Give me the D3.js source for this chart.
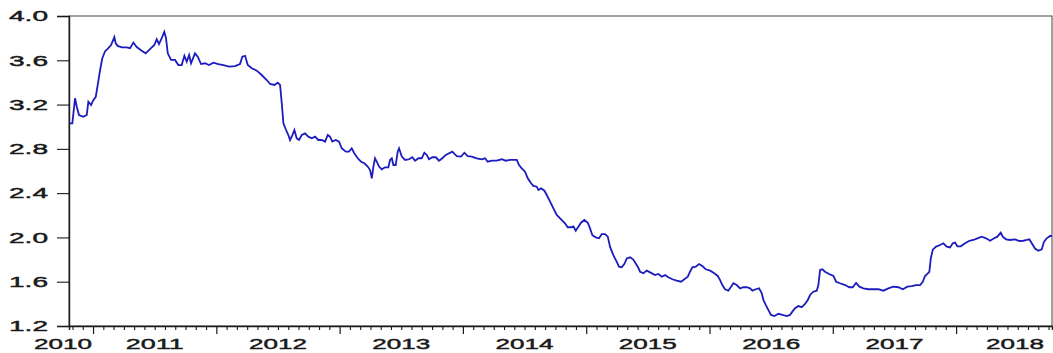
<!DOCTYPE html>
<html>
<head>
<meta charset="utf-8">
<script src="https://cdn.jsdelivr.net/npm/d3@7"></script>
<style>
  html, body { margin: 0; padding: 0; background: #fff; }
  svg { display: block; }
</style>
</head>
<body>
<svg id="chart" width="1053" height="353"></svg>
<script>
// Year labels along the time axis
const yearLabels = [2010, 2011, 2012, 2013, 2014, 2015, 2016, 2017, 2018];

// Value axis ticks
const yTickValues = [1.2, 1.6, 2.0, 2.4, 2.8, 3.2, 3.6, 4.0];

// Observation times (decimal years)
const obsTime = [
  2010.813, 2010.832, 2010.854, 2010.868, 2010.886, 2010.921, 2010.949, 2010.962, 2010.984, 2011.002,
  2011.022, 2011.038, 2011.057, 2011.075, 2011.097, 2011.124, 2011.146, 2011.173, 2011.184, 2011.200,
  2011.233, 2011.273, 2011.300, 2011.327, 2011.354, 2011.395, 2011.427, 2011.462, 2011.497, 2011.517,
  2011.535, 2011.557, 2011.578, 2011.592, 2011.606, 2011.633, 2011.665, 2011.692, 2011.719, 2011.741,
  2011.760, 2011.779, 2011.795, 2011.827, 2011.849, 2011.876, 2011.908, 2011.941, 2011.976, 2012.016,
  2012.057, 2012.103, 2012.152, 2012.192, 2012.211, 2012.233, 2012.255, 2012.287, 2012.328,
  2012.368, 2012.409, 2012.436, 2012.471, 2012.498, 2012.517, 2012.531, 2012.544, 2012.563, 2012.584,
  2012.598, 2012.617, 2012.633, 2012.652, 2012.671, 2012.693, 2012.720, 2012.746, 2012.774, 2012.801,
  2012.827, 2012.855, 2012.882, 2012.904, 2012.922, 2012.941, 2012.969, 2012.995, 2013.017, 2013.050,
  2013.076, 2013.098, 2013.119, 2013.147, 2013.174, 2013.201, 2013.228, 2013.247, 2013.261, 2013.274,
  2013.287, 2013.301, 2013.320, 2013.342, 2013.368, 2013.395, 2013.409, 2013.423, 2013.436, 2013.455,
  2013.471, 2013.482, 2013.504, 2013.531, 2013.563, 2013.590, 2013.612, 2013.639, 2013.666, 2013.687,
  2013.707, 2013.725, 2013.752, 2013.780, 2013.806, 2013.833, 2013.861,
  2013.914, 2013.950, 2013.985, 2014.012, 2014.039, 2014.072, 2014.112, 2014.153, 2014.180, 2014.201,
  2014.234, 2014.274, 2014.315, 2014.347, 2014.382, 2014.437, 2014.455, 2014.477, 2014.504, 2014.526,
  2014.553, 2014.571, 2014.599, 2014.612, 2014.634, 2014.661, 2014.680, 2014.707, 2014.734, 2014.761,
  2014.796, 2014.828, 2014.850, 2014.877, 2014.896, 2014.915, 2014.936, 2014.958, 2014.985, 2015.013,
  2015.031, 2015.050, 2015.077, 2015.104, 2015.126, 2015.153, 2015.175, 2015.193, 2015.220, 2015.248,
  2015.266, 2015.288, 2015.309, 2015.329, 2015.356, 2015.382,
  2015.418, 2015.437, 2015.464, 2015.491, 2015.526, 2015.558, 2015.585, 2015.613, 2015.640, 2015.666,
  2015.699, 2015.734, 2015.769, 2015.796, 2015.824, 2015.842, 2015.861, 2015.889, 2015.915, 2015.942,
  2015.970, 2016.005, 2016.039, 2016.067, 2016.086, 2016.104, 2016.126, 2016.153, 2016.175, 2016.194,
  2016.221, 2016.248, 2016.275, 2016.302, 2016.329, 2016.348, 2016.375, 2016.402, 2016.424, 2016.437,
  2016.456, 2016.477, 2016.499, 2016.526, 2016.559, 2016.591, 2016.627, 2016.653, 2016.672, 2016.694,
  2016.721, 2016.748, 2016.775, 2016.797, 2016.816, 2016.842, 2016.870, 2016.883, 2016.897, 2016.915,
  2016.937, 2016.970,
  2017.005, 2017.027, 2017.059, 2017.100, 2017.134, 2017.162, 2017.189, 2017.216, 2017.248, 2017.289,
  2017.329, 2017.370, 2017.410, 2017.451, 2017.491, 2017.532, 2017.568, 2017.605, 2017.641, 2017.675,
  2017.708, 2017.730, 2017.748, 2017.767, 2017.783, 2017.795, 2017.811, 2017.838, 2017.870, 2017.897,
  2017.924, 2017.951, 2017.973, 2017.992, 2018.010, 2018.038, 2018.073, 2018.108, 2018.140, 2018.173,
  2018.208, 2018.243, 2018.276, 2018.308, 2018.335, 2018.362, 2018.379, 2018.405, 2018.438, 2018.478,
  2018.513, 2018.546, 2018.573, 2018.594, 2018.614, 2018.640, 2018.667, 2018.695, 2018.713, 2018.735,
  2018.762, 2018.778
];

// Observed values
const obsValue = [
  3.03, 3.03, 3.257, 3.18, 3.106, 3.09, 3.106, 3.226, 3.196, 3.24,
  3.27, 3.377, 3.51, 3.618, 3.68, 3.71, 3.738, 3.81, 3.753, 3.73,
  3.717, 3.717, 3.71, 3.76, 3.72, 3.687, 3.663, 3.70, 3.738, 3.79,
  3.747, 3.80, 3.858, 3.80, 3.663, 3.603, 3.603, 3.557, 3.557, 3.64,
  3.587, 3.648, 3.573, 3.663, 3.633, 3.566, 3.573, 3.557, 3.578, 3.566,
  3.557, 3.542, 3.548, 3.566, 3.633, 3.64, 3.557, 3.528, 3.506,
  3.467, 3.422, 3.386, 3.377, 3.398, 3.377, 3.21, 3.03, 2.977, 2.925,
  2.88, 2.925, 2.97, 2.895, 2.88, 2.925, 2.94, 2.91, 2.895, 2.91,
  2.88, 2.88, 2.865, 2.925, 2.91, 2.865, 2.88, 2.865, 2.805, 2.775,
  2.775, 2.805, 2.76, 2.715, 2.684, 2.67, 2.64, 2.609, 2.534, 2.64,
  2.715, 2.684, 2.64, 2.615, 2.633, 2.633, 2.70, 2.715, 2.654, 2.654,
  2.775, 2.805, 2.73, 2.70, 2.706, 2.724, 2.693, 2.715, 2.715, 2.765,
  2.745, 2.706, 2.724, 2.724, 2.693, 2.715, 2.745,
  2.775, 2.735, 2.73, 2.765, 2.735, 2.73, 2.715, 2.706, 2.715, 2.684,
  2.693, 2.693, 2.706, 2.693, 2.70, 2.70, 2.654, 2.624, 2.594, 2.534,
  2.489, 2.465, 2.458, 2.428, 2.444, 2.422, 2.383, 2.323, 2.263, 2.203,
  2.164, 2.128, 2.092, 2.092, 2.10, 2.061, 2.097, 2.133, 2.158, 2.133,
  2.082, 2.02, 2.001, 1.992, 2.03, 2.03, 2.007, 1.917, 1.84, 1.78,
  1.736, 1.73, 1.76, 1.81, 1.82, 1.80,
  1.736, 1.69, 1.676, 1.70, 1.68, 1.66, 1.67, 1.645, 1.66, 1.64,
  1.622, 1.61, 1.60, 1.622, 1.645, 1.69, 1.73, 1.736, 1.76, 1.742,
  1.712, 1.70, 1.676, 1.652, 1.615, 1.57, 1.532, 1.519, 1.555, 1.586,
  1.57, 1.54, 1.55, 1.55, 1.54, 1.519, 1.532, 1.54, 1.495, 1.435,
  1.39, 1.345, 1.30, 1.29, 1.31, 1.30, 1.29, 1.30, 1.33, 1.36,
  1.38, 1.37, 1.40, 1.435, 1.48, 1.51, 1.519, 1.57, 1.706, 1.712,
  1.69, 1.67,
  1.652, 1.60, 1.586, 1.57, 1.55, 1.55, 1.59, 1.555, 1.54, 1.532,
  1.532, 1.532, 1.519, 1.54, 1.555, 1.55, 1.532, 1.555, 1.561, 1.57,
  1.57, 1.60, 1.652, 1.67, 1.69, 1.81, 1.89, 1.917, 1.932, 1.947,
  1.917, 1.91, 1.947, 1.953, 1.92, 1.92, 1.947, 1.97, 1.977, 1.992,
  2.007, 1.992, 1.97, 1.992, 2.007, 2.043, 2.007, 1.983, 1.977, 1.983,
  1.968, 1.97, 1.977, 1.983, 1.947, 1.90, 1.88, 1.893, 1.96, 1.992,
  2.013, 2.013
];

const svg = d3.select("#chart");
const plot = { left: 69, right: 1052, top: 16, bottom: 326 };
const ink = "#1a1a1a";
const fontFamily = "'Liberation Sans', Arial, sans-serif";

const x = d3.scaleLinear().domain([2010.805, 2018.778]).range([plot.left, plot.right]);
const y = d3.scaleLinear().domain([1.2, 4.0]).range([plot.bottom, plot.top]);

// Plot frame
svg.append("rect")
  .attr("x", plot.left).attr("y", plot.top)
  .attr("width", plot.right - plot.left).attr("height", plot.bottom - plot.top)
  .attr("fill", "none").attr("stroke", "#444").attr("stroke-width", 1);

// Shared label styling: wide, heavy axis numerals
function styleLabel(sel, width) {
  sel.attr("fill", ink)
    .attr("stroke", ink)
    .attr("stroke-width", 0.45)
    .style("font-family", fontFamily)
    .style("font-size", "15px")
    .attr("textLength", width)
    .attr("lengthAdjust", "spacingAndGlyphs");
}

// Value axis
const yAxis = svg.append("g")
  .attr("transform", `translate(${plot.left},0)`)
  .call(d3.axisLeft(y).tickValues(yTickValues).tickSize(12).tickPadding(8).tickFormat(d3.format(".1f")));
yAxis.select(".domain").attr("stroke", ink).attr("stroke-width", 1.4);
yAxis.selectAll(".tick line").attr("stroke", ink).attr("stroke-width", 1.1);
yAxis.selectAll(".tick text").attr("x", -21).call(styleLabel, 39);

// Monthly ticks along the time axis, longer at each new year
const [t0, t1] = x.domain();
const monthTicks = [];
for (let yr = 2010; yr <= 2018; yr++) {
  for (let m = 0; m < 12; m++) {
    const v = yr + m / 12;
    if (v >= t0 && v <= t1) monthTicks.push(v);
  }
}
const minorTicks = monthTicks.filter(v => Math.abs(v - Math.round(v)) > 1e-6);
const majorTicks = monthTicks.filter(v => Math.abs(v - Math.round(v)) <= 1e-6);

const xMinor = svg.append("g")
  .attr("transform", `translate(0,${plot.bottom})`)
  .call(d3.axisBottom(x).tickValues(minorTicks).tickSize(4).tickFormat(""));
xMinor.select(".domain").attr("stroke", ink).attr("stroke-width", 1.4);
xMinor.selectAll(".tick line").attr("stroke", ink).attr("stroke-width", 1.1);

const xMajor = svg.append("g")
  .attr("transform", `translate(0,${plot.bottom})`)
  .call(d3.axisBottom(x).tickValues(majorTicks).tickSize(8).tickFormat(""));
xMajor.select(".domain").remove();
xMajor.selectAll(".tick line").attr("stroke", ink).attr("stroke-width", 1.2);

// Year labels, centred on each year and kept inside the chart edges
svg.append("g").selectAll("text")
  .data(yearLabels)
  .join("text")
  .attr("x", d => Math.max(63, Math.min(1015, x(d + 0.5))))
  .attr("y", 348.5)
  .attr("text-anchor", "middle")
  .call(styleLabel, 58)
  .text(d => d);

// Series line
svg.append("clipPath").attr("id", "plot-clip")
  .append("rect")
  .attr("x", plot.left).attr("y", plot.top)
  .attr("width", plot.right - plot.left).attr("height", plot.bottom - plot.top);

const series = obsTime.map((t, i) => ({ t, v: obsValue[i] }));
const line = d3.line().x(d => x(d.t)).y(d => y(d.v));

svg.append("path")
  .datum(series)
  .attr("clip-path", "url(#plot-clip)")
  .attr("fill", "none")
  .attr("stroke", "#1c1cbf")
  .attr("stroke-width", 1.8)
  .attr("stroke-linejoin", "miter")
  .attr("d", line);
</script>
</body>
</html>
